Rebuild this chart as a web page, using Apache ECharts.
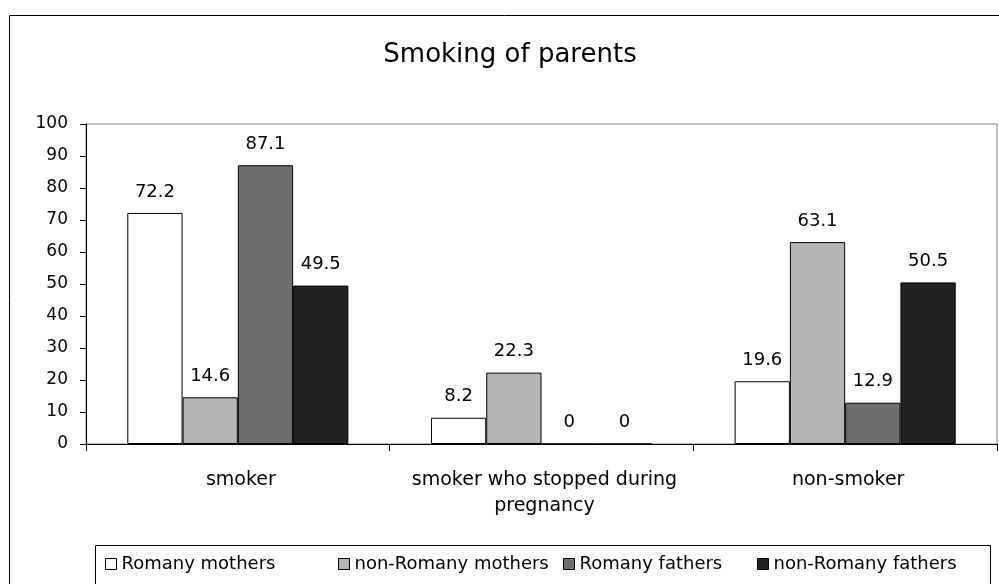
<!DOCTYPE html>
<html>
<head>
<meta charset="utf-8">
<script src="https://cdn.jsdelivr.net/npm/echarts@6/dist/echarts.min.js"></script>
<style>
html,body{margin:0;padding:0;background:#ffffff;}
#chart{width:999px;height:584px;}
</style>
</head>
<body>
<div id="chart"></div>
<script>
// ---- data ----
const chartTitle = 'Smoking of parents';
const categories = ['smoker', 'smoker who stopped during\npregnancy', 'non-smoker'];
const seriesNames = ['Romany mothers', 'non-Romany mothers', 'Romany fathers', 'non-Romany fathers'];
const romanyMothers = [72.2, 8.2, 19.6];
const nonRomanyMothers = [14.6, 22.3, 63.1];
const romanyFathers = [87.1, 0, 12.9];
const nonRomanyFathers = [49.5, 0, 50.5];
const yMin = 0, yMax = 100, yStep = 10;

// ---- style ----
const FONT = 'DejaVu Sans';
const colors = ['#ffffff', '#b5b5b5', '#6e6e6e', '#222222'];
const legendLefts = [105, 338, 563, 757];
const seriesValues = [romanyMothers, nonRomanyMothers, romanyFathers, nonRomanyFathers];

const chart = echarts.init(document.getElementById('chart'), null, {renderer: 'canvas'});

const series = seriesNames.map((name, i) => ({
  name: name,
  type: 'bar',
  data: seriesValues[i],
  barGap: '0%',
  barCategoryGap: '27.2%',
  itemStyle: {color: colors[i], borderColor: '#000000', borderWidth: 1},
  label: {
    show: true,
    position: 'top',
    distance: 12,
    color: '#000000',
    fontFamily: FONT,
    fontSize: 18
  },
  emphasis: {disabled: true},
  animation: false
}));

const legends = seriesNames.map((name, i) => ({
  data: [name],
  left: legendLefts[i],
  top: 555,
  padding: 0,
  itemWidth: 11,
  itemHeight: 11,
  icon: 'rect',
  itemStyle: {borderColor: '#000000', borderWidth: 1},
  textStyle: {color: '#000000', fontFamily: FONT, fontSize: 18},
  selectedMode: false
}));

chart.setOption({
  backgroundColor: '#ffffff',
  animation: false,
  title: {
    text: chartTitle,
    left: 505,
    top: 37,
    textAlign: 'center',
    textStyle: {color: '#000000', fontFamily: FONT, fontSize: 26, fontWeight: 'normal'}
  },
  legend: legends,
  grid: {
    left: 86, top: 124, right: 2, bottom: 140,
    show: true, borderColor: '#808080', borderWidth: 1, backgroundColor: '#ffffff',
    containLabel: false
  },
  xAxis: {
    type: 'category',
    data: categories,
    axisLine: {lineStyle: {color: '#000000', width: 1}},
    axisTick: {show: true, length: 7, lineStyle: {color: '#000000'}},
    axisLabel: {
      color: '#000000', fontFamily: FONT, fontSize: 19, margin: 23,
      lineHeight: 26, interval: 0, padding: [0, 0, 0, 6]
    },
    splitLine: {show: false}
  },
  yAxis: {
    type: 'value',
    min: yMin, max: yMax, interval: yStep,
    axisLine: {show: true, lineStyle: {color: '#000000', width: 1}},
    axisTick: {show: true, length: 6, lineStyle: {color: '#000000'}},
    axisLabel: {color: '#000000', fontFamily: FONT, fontSize: 17, margin: 18},
    splitLine: {show: false}
  },
  graphic: [
    {type: 'rect', silent: true, z: -10,
     shape: {x: 9.5, y: 15.5, width: 1200, height: 800},
     style: {fill: 'none', stroke: '#000000', lineWidth: 1}},
    {type: 'rect', silent: true, z: -5,
     shape: {x: 95.5, y: 545.5, width: 895, height: 80},
     style: {fill: '#ffffff', stroke: '#000000', lineWidth: 1}}
  ],
  series: series
});
</script>
</body>
</html>
